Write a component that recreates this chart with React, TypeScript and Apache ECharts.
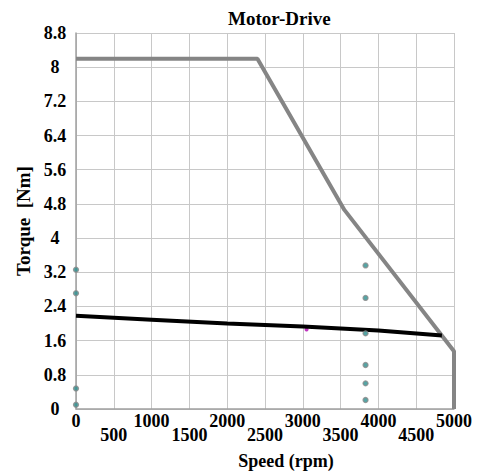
import React, { useEffect, useRef } from "react";
import * as echarts from "echarts";

const xTicks = [0, 500, 1000, 1500, 2000, 2500, 3000, 3500, 4000, 4500, 5000];
const maxTorqueCurve: [number, number][] = [
  [0, 8.2],
  [2400, 8.2],
  [3550, 4.66],
  [5000, 1.35],
  [5000, 0],
];
const loadCurve: [number, number][] = [
  [0, 2.18],
  [1000, 2.09],
  [2000, 2.0],
  [3000, 1.93],
  [4000, 1.84],
  [4840, 1.72],
];
const pointsAtZero: [number, number][] = [
  [0, 3.26],
  [0, 2.71],
  [0, 0.48],
  [0, 0.1],
];
const pointsAt3830: [number, number][] = [
  [3830, 3.36],
  [3830, 2.6],
  [3830, 1.77],
  [3830, 1.03],
  [3830, 0.6],
  [3830, 0.21],
];
const operatingPoint: [number, number][] = [[3050, 1.86]];

const FONT = "Liberation Serif, serif";
const TICK = 18;

export default function App() {
  const ref = useRef<HTMLDivElement>(null);
  useEffect(() => {
    if (!ref.current) return;
    const chart = echarts.init(ref.current, undefined, { renderer: "svg" });
    chart.setOption({
      animation: false,
      backgroundColor: "#ffffff",
      title: {
        text: "Motor-Drive",
        left: 223,
        top: 4,
        textStyle: { fontFamily: FONT, fontWeight: "bold", fontSize: 19, color: "#000" },
      },
      grid: { left: 76, right: 27, top: 33, bottom: 66, containLabel: false },
      xAxis: {
        type: "value",
        min: 0,
        max: 5000,
        interval: 500,
        name: "Speed (rpm)",
        nameLocation: "middle",
        nameGap: 43,
        nameTextStyle: {
          fontFamily: FONT,
          fontWeight: "bold",
          fontSize: 18,
          color: "#000",
          padding: [0, 0, 0, 42],
        },
        axisLine: { show: true, lineStyle: { color: "#a0a0a0", width: 1.5 } },
        axisTick: { show: false },
        splitLine: { show: true, lineStyle: { color: "#c8c8c8", width: 1 } },
        axisLabel: {
          interval: 0,
          margin: 3,
          showMinLabel: true,
          showMaxLabel: true,
          formatter: (v: number) => {
            const i = xTicks.indexOf(v);
            return i % 2 === 1 ? `{b|${v}}` : `{a|${v}}`;
          },
          rich: {
            a: { fontFamily: FONT, fontWeight: "bold", fontSize: TICK, color: "#000", padding: [0, 0, 0, 0] },
            b: { fontFamily: FONT, fontWeight: "bold", fontSize: TICK, color: "#000", padding: [14, 0, 0, 0] },
          },
        },
      },
      yAxis: {
        type: "value",
        min: 0,
        max: 8.8,
        interval: 0.8,
        name: "Torque\u00a0\u00a0[Nm]",
        nameLocation: "middle",
        nameGap: 42,
        nameTextStyle: { fontFamily: FONT, fontWeight: "bold", fontSize: 19, color: "#000" },
        axisLine: { show: true, lineStyle: { color: "#a0a0a0", width: 1.5 } },
        axisTick: { show: false },
        splitLine: { show: true, lineStyle: { color: "#c8c8c8", width: 1 } },
        axisLabel: {
          align: "center",
          margin: 21,
          fontFamily: FONT,
          fontWeight: "bold",
          fontSize: TICK,
          color: "#000",
          formatter: (v: number) => String(+v.toFixed(1)),
        },
      },
      series: [
        {
          type: "line",
          data: maxTorqueCurve,
          symbol: "none",
          clip: false,
          lineStyle: { color: "#858585", width: 4 },
          z: 3,
        },
        {
          type: "line",
          data: loadCurve,
          symbol: "none",
          lineStyle: { color: "#000000", width: 4 },
          z: 4,
        },
        {
          type: "scatter",
          data: [...pointsAtZero, ...pointsAt3830],
          symbol: "circle",
          symbolSize: 5,
          clip: false,
          itemStyle: { color: "#2a8f8f", borderColor: "#8a8a8a", borderWidth: 1.3 },
          z: 5,
        },
        {
          type: "scatter",
          data: operatingPoint,
          symbol: "circle",
          symbolSize: 4,
          itemStyle: { color: "#b000b0" },
          z: 3,
        },
      ],
    });
    return () => chart.dispose();
  }, []);
  return (
    <div
      ref={ref}
      style={{ position: "fixed", left: 0, top: 0, width: 481, height: 475 }}
    />
  );
}
